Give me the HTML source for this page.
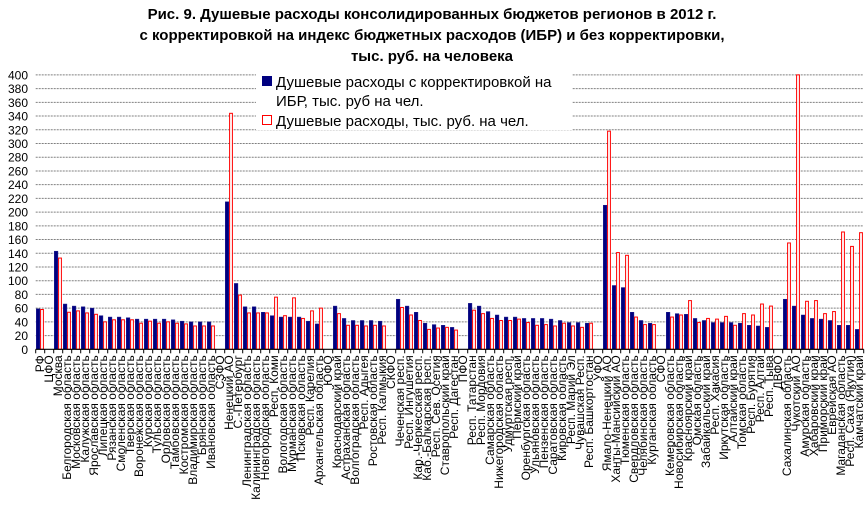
<!DOCTYPE html>
<html><head><meta charset="utf-8"><style>
html,body{margin:0;padding:0;background:#fff;width:867px;height:510px;overflow:hidden}
svg{display:block;font-family:"Liberation Sans",sans-serif}
</style></head><body>
<svg id="chart" width="867" height="510" viewBox="0 0 867 510">
<g font-weight="bold" font-size="15" text-anchor="middle" fill="#000">
<text x="432" y="19">Рис. 9. Душевые расходы консолидированных бюджетов регионов в 2012 г.</text>
<text x="432" y="40">с корректировкой на индекс бюджетных расходов (ИБР) и без корректировки,</text>
<text x="432" y="61">тыс. руб. на человека</text>
</g>
<g id="grid"></g>
<g id="bars"></g>
<g id="axes"></g>
<g>
<rect x="256" y="72" width="316" height="58" fill="#fff"/>
<rect x="262" y="76" width="10" height="10" fill="#000080"/>
<text x="276" y="87" font-size="15">Душевые расходы с корректировкой на</text>
<text x="276" y="106" font-size="15">ИБР, тыс. руб на чел.</text>
<rect x="262.5" y="115.5" width="9" height="9" fill="#fff" stroke="#ff0000"/>
<text x="276" y="126" font-size="15">Душевые расходы, тыс. руб. на чел.</text>
</g>
</svg>
<script>
const categories=["РФ","ЦФО","Москва","Белгородская область","Московская область","Калужская область","Ярославская область","Липецкая область","Рязанская область","Смоленская область","Тверская область","Воронежская область","Курская область","Тульская область","Орловская область","Тамбовская область","Костромская область","Владимирская область","Брянская область","Ивановская область","СЗФО","Ненецкий АО","С.-Петербург","Ленинградская область","Калининградская область","Новгородская область","Респ. Коми","Вологодская область","Мурманская область","Псковская область","Респ. Карелия","Архангельская область","ЮФО","Краснодарский край","Астраханская область","Волгоградская область","Респ. Адыгея","Ростовская область","Респ. Калмыкия","СКФО","Чеченская респ.","Респ. Ингушетия","Кар.-Черкесская респ.","Каб.-Балкарская респ.","Респ. Сев. Осетия","Ставропольский край","Респ. Дагестан","ПФО","Респ. Татарстан","Респ. Мордовия","Самарская область","Нижегородская область","Удмуртская респ.","Пермский край","Оренбургская область","Ульяновская область","Пензенская область","Саратовская область","Кировская область","Респ. Марий Эл","Чувашская Респ.","Респ. Башкортостан","УФО","Ямало-Ненецкий АО","Ханты-Мансийский АО","Тюменская область","Свердловская область","Челябинская область","Курганская область","СФО","Кемеровская область","Новосибирская область","Красноярский край","Омская область","Забайкальский край","Респ. Хакасия","Иркутская область","Алтайский край","Томская область","Респ. Бурятия","Респ. Алтай","Респ. Тыва","ДВФО","Сахалинская область","Чукотский АО","Амурская область","Хабаровский край","Приморский край","Еврейская АО","Магаданская область","Респ. Саха (Якутия)","Камчатский край"];
const ibrValues=[59,null,143,66,63,62,60,49,47,47,46,44,44,44,44,43,41,40,40,40,null,215,96,62,62,54,49,47,47,47,41,37,null,63,45,42,42,42,41,null,73,63,54,38,36,35,32,null,67,63,55,50,47,47,45,45,45,44,42,39,39,38,null,210,93,90,54,42,38,null,54,52,51,45,42,39,39,39,38,35,34,32,null,73,63,50,45,44,42,35,35,29];
const rawValues=[58,null,133,54,56,53,51,40,43,43,43,38,41,38,40,38,37,34,34,34,null,344,79,53,53,53,76,49,75,45,56,60,null,52,35,35,34,35,34,null,61,50,42,29,31,32,28,null,57,52,45,42,42,44,39,35,36,34,38,34,32,38,null,318,141,137,47,36,36,null,47,50,71,39,45,44,48,35,52,50,66,63,null,155,410,70,71,52,55,171,150,170];
const yTicks=[0,20,40,60,80,100,120,140,160,180,200,220,240,260,280,300,320,340,360,380,400];
const NS="http://www.w3.org/2000/svg";
const L=35.7,R=863.7,Y0=349.3,TOP=74.9,YMAX=400;
const slot=(R-L)/categories.length;
const yS=v=>Y0-Math.min(v,YMAX)/YMAX*(Y0-TOP);
const xS=i=>L+i*slot;
function mk(t,a,p){const e=document.createElementNS(NS,t);for(const k in a)e.setAttribute(k,a[k]);p.appendChild(e);return e;}
const grid=document.getElementById('grid'),bars=document.getElementById('bars'),axes=document.getElementById('axes');
yTicks.forEach(v=>{
 const y=yS(v);
 if(v>0){const g=mk('line',{x1:L,x2:R,y1:y,y2:y,stroke:'#808080','stroke-width':1,'stroke-dasharray':'2,1'},grid);
 
 }
 const t=mk('text',{x:28,y:y+4.5,'font-size':12,'text-anchor':'end'},axes);t.textContent=v;
 
 
});
categories.forEach((c,i)=>{
 const x=xS(i);
 if(ibrValues[i]!=null){const b=mk('rect',{x:x+0.6,y:yS(ibrValues[i]),width:3.6,height:Y0-yS(ibrValues[i]),fill:'#000080',stroke:'#1a1a8a','stroke-width':0.5},bars);
 
 }
 if(rawValues[i]!=null){const b=mk('rect',{x:x+4.9,y:yS(rawValues[i]),width:2.8,height:Y0-yS(rawValues[i]),fill:'#fff',stroke:'#ff0000','stroke-width':1},bars);
 
 }
 const tk=mk('line',{x1:x,x2:x,y1:Y0,y2:Y0+4,stroke:'#000'},axes);
 
 
 const cx=x+slot/2+4;
 const t=mk('text',{x:0,y:0,'font-size':12,'text-anchor':'end',transform:`translate(${cx},${Y0+6}) rotate(-90)`},axes);t.textContent=c;
 
 
});
const ax=mk('line',{x1:L,x2:R,y1:Y0,y2:Y0,stroke:'#000','stroke-width':1.2},axes);


const tk2=mk('line',{x1:R,x2:R,y1:Y0,y2:Y0+4,stroke:'#000'},axes);


</script>
</body></html>
